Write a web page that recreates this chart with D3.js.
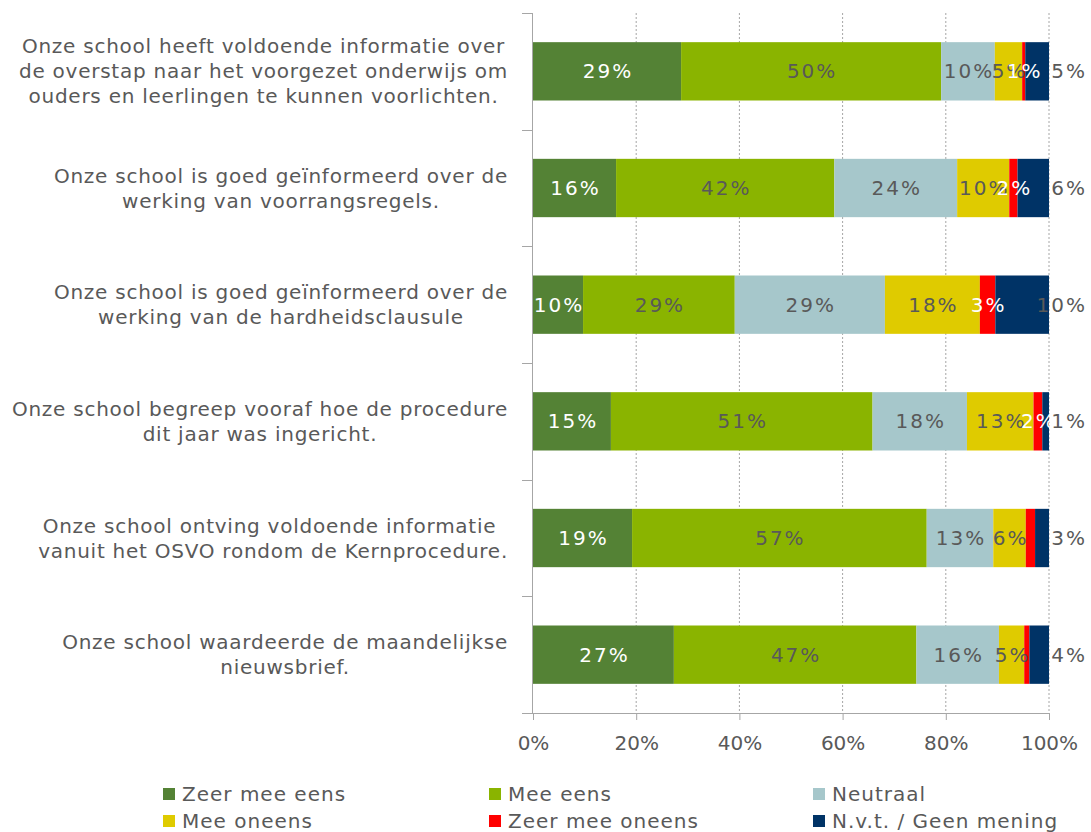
<!DOCTYPE html>
<html><head><meta charset="utf-8">
<script src="https://cdn.jsdelivr.net/npm/d3@7"></script>
<style>
body{margin:0;background:#fff;}
text{font-family:"DejaVu Sans",Verdana,sans-serif;}
</style></head>
<body>
<svg id="chart" width="1091" height="832"></svg>
<script>
// ---- data ----
const categories = [
  ["Onze school heeft voldoende informatie over","de overstap naar het voorgezet onderwijs om","ouders en leerlingen te kunnen voorlichten."],
  ["Onze school is goed geïnformeerd over de","werking van voorrangsregels."],
  ["Onze school is goed geïnformeerd over de","werking van de hardheidsclausule"],
  ["Onze school begreep vooraf hoe de procedure","dit jaar was ingericht."],
  ["Onze school ontving voldoende informatie ","vanuit het OSVO rondom de Kernprocedure."],
  ["Onze school waardeerde de maandelijkse","nieuwsbrief."]
];
const seriesNames = ["Zeer mee eens","Mee eens","Neutraal","Mee oneens","Zeer mee oneens","N.v.t. / Geen mening"];
const zeerMeeEens   = [28.7, 16.1,  9.7, 15.1, 19.2, 27.3];
const meeEens       = [50.4, 42.3, 29.4, 50.7, 57.1, 47.0];
const neutraal      = [10.4, 23.8, 29.1, 18.3, 12.9, 16.0];
const meeOneens     = [ 5.3, 10.1, 18.4, 12.9,  6.3,  4.9];
const zeerMeeOneens = [ 0.6,  1.6,  3.0,  1.7,  1.8,  1.0];
const nvt           = [ 4.6,  6.1, 10.4,  1.3,  2.7,  3.8];
const redLabelShown = [true, true, true, true, false, false];
const xTicks = [0, 20, 40, 60, 80, 100];

const colors = ["#548235","#8ab400","#a6c7cb","#dfcb00","#ff0000","#003366"];
const labelColors = ["#ffffff","#595959","#595959","#595959","#ffffff","#595959"];
const seriesValues = [zeerMeeEens, meeEens, neutraal, meeOneens, zeerMeeOneens, nvt];

const svg = d3.select("#chart");
const pLeft = 533, pRight = 1049, pTop = 13, pBottom = 713;
const x = d3.scaleLinear().domain([0,100]).range([pLeft,pRight]);
const y = d3.scaleBand().domain(d3.range(categories.length)).range([pTop,pBottom]).paddingInner(0.5).paddingOuter(0.25);
const axisColor = "#a6a6a6", textColor = "#595959";

// gridlines
svg.append("g").selectAll("line").data(xTicks.filter(t=>t>0)).join("line")
  .attr("x1",d=>x(d)).attr("x2",d=>x(d)).attr("y1",pTop).attr("y2",pBottom)
  .attr("stroke","#a6a6a6").attr("stroke-width",1).attr("stroke-dasharray","2,2");

// stacked data
const rows = categories.map((c,i)=>{
  let acc = 0;
  return seriesValues.map((s,k)=>{ const seg={row:i,k,v:s[i],x0:acc,x1:acc+s[i]}; acc+=s[i]; return seg;});
});
const segs = rows.flat();

svg.append("g").selectAll("rect").data(segs).join("rect")
  .attr("x",d=>x(d.x0)).attr("width",d=>x(d.x1)-x(d.x0))
  .attr("y",d=>y(d.row)).attr("height",y.bandwidth())
  .attr("fill",d=>colors[d.k]);

// axes
const xAxis = svg.append("g").attr("transform",`translate(0,${pBottom})`)
  .call(d3.axisBottom(x).tickValues(xTicks).tickFormat(d=>d+"%").tickSize(7).tickPadding(16));
xAxis.select(".domain").remove();
xAxis.append("line").attr("x1",pLeft-11).attr("x2",pRight).attr("y1",0.5).attr("y2",0.5).attr("stroke",axisColor);
xAxis.selectAll(".tick line").attr("stroke",axisColor);
xAxis.selectAll(".tick text").attr("fill",textColor).style("font-size","20px").style("font-family","DejaVu Sans");

const yg = svg.append("g");
yg.append("line").attr("x1",pLeft-0.5).attr("x2",pLeft-0.5).attr("y1",pTop).attr("y2",pBottom).attr("stroke",axisColor);
const bounds = d3.range(categories.length+1).map(i=> pTop + i*(pBottom-pTop)/categories.length);
yg.selectAll("line.t").data(bounds).join("line").attr("class","t")
  .attr("x1",pLeft-11).attr("x2",pLeft).attr("y1",d=>Math.round(d)+0.5).attr("y2",d=>Math.round(d)+0.5).attr("stroke",axisColor);

// category labels
const labelRight = 508, lineH = 25;
categories.forEach((lines,i)=>{
  const g = svg.append("g");
  const cy = y(i)+y.bandwidth()/2;
  const ts = lines.map((ln,j)=> g.append("text").text(ln)
      .attr("y", cy + (j-(lines.length-1)/2)*lineH).attr("dy","0.35em")
      .style("white-space","pre").style("font-size","20px").style("letter-spacing","0.75px").attr("fill",textColor));
  const w = d3.max(ts, t=>t.node().getComputedTextLength());
  const cx = labelRight - w/2;
  ts.forEach(t=>t.attr("x",cx).attr("text-anchor","middle"));
});

// data labels
svg.append("g").selectAll("text").data(segs.filter(d=> d.k!==4 || redLabelShown[d.row])).join("text")
  .attr("x",d=> d.k===5 ? 1087 : x((d.x0+d.x1)/2)+1)
  .attr("text-anchor",d=> d.k===5 ? "end" : "middle")
  .attr("y",d=>y(d.row)+y.bandwidth()/2).attr("dy","0.35em")
  .attr("fill",d=>labelColors[d.k]).style("font-size","20px").style("letter-spacing","2px")
  .text(d=>Math.round(d.v)+"%");

// legend
const legX = [163, 489, 813], legY = [794, 821];
const lg = svg.append("g").selectAll("g").data(seriesNames).join("g")
  .attr("transform",(d,i)=>`translate(${legX[i%3]},${legY[Math.floor(i/3)]})`);
lg.append("rect").attr("x",0).attr("y",-6).attr("width",12).attr("height",12).attr("fill",(d,i)=>colors[i]);
lg.append("text").attr("x",19).attr("dy","0.35em").style("font-size","20px").style("letter-spacing","1px").attr("fill",textColor).text(d=>d);
</script>
</body></html>
